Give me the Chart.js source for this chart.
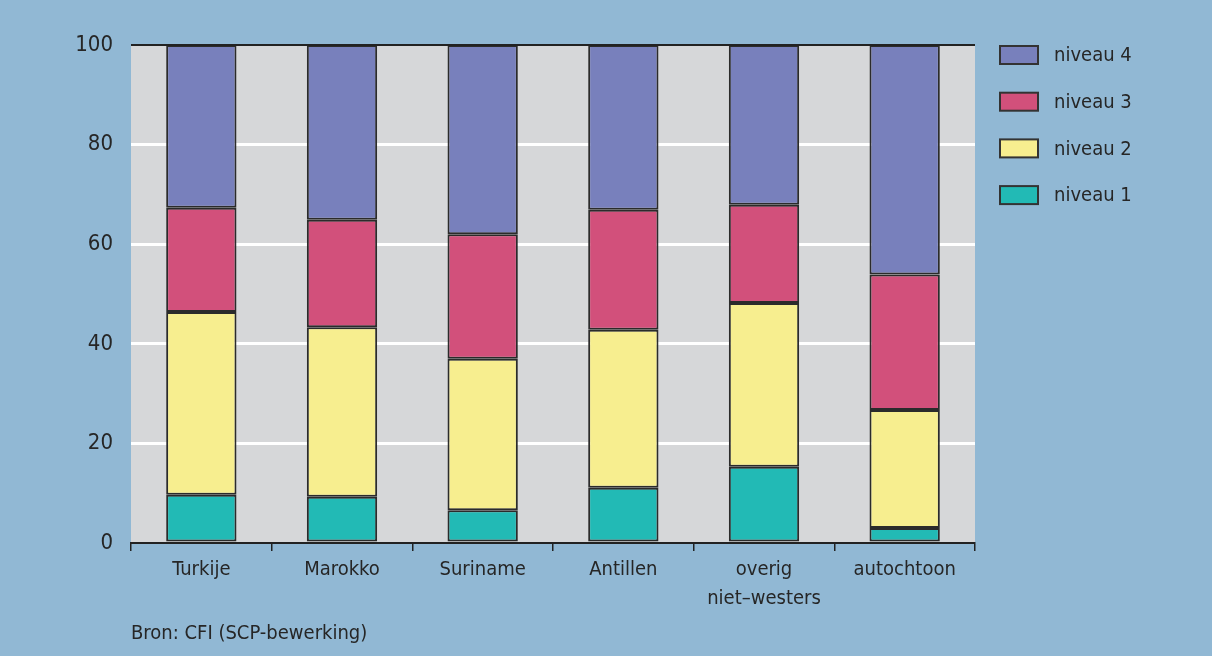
<!DOCTYPE html>
<html>
<head>
<meta charset="utf-8">
<script src="https://cdn.jsdelivr.net/npm/chart.js@4.4.1/dist/chart.umd.min.js"></script>
<style>
  html, body { margin: 0; padding: 0; background: #91b8d4; }
  #wrap { width: 1212px; height: 656px; position: relative; }
</style>
</head>
<body>
<div id="wrap"><canvas id="c"></canvas></div>
<script>
const categories = ["Turkije", "Marokko", "Suriname", "Antillen", ["overig", "niet\u2013westers"], "autochtoon"];
const niveau1 = [9.7, 9.3, 6.6, 11.1, 15.3, 3.0];
const niveau2 = [36.7, 34.0, 30.4, 31.7, 32.9, 23.7];
const niveau3 = [20.9, 21.6, 25.0, 24.1, 19.7, 27.2];
const niveau4 = [32.7, 35.1, 38.0, 33.1, 32.1, 46.1];
const seriesNames = ["niveau 1", "niveau 2", "niveau 3", "niveau 4"];
const yTicks = [0, 20, 40, 60, 80, 100];
const sourceText = "Bron: CFI (SCP-bewerking)";

const FONT = "'Liberation Sans Narrow', 'DejaVu Sans Condensed', 'Liberation Sans', sans-serif";
const colors = ["#22bab5", "#f7ee8f", "#d2507b", "#7880bc"];
const TXT = "#262626";

const bgPlugin = {
  id: 'bg',
  beforeDraw(chart) {
    const { ctx, chartArea: a } = chart;
    ctx.save();
    ctx.fillStyle = "#d6d7d9";
    ctx.fillRect(a.left, a.top, a.right - a.left, a.bottom - a.top);
    ctx.restore();
  },
  afterDraw(chart) {
    const { ctx, chartArea: a } = chart;
    ctx.save();
    const y100 = chart.scales.y.getPixelForValue(100);
    ctx.strokeStyle = "#222";
    ctx.lineWidth = 2;
    ctx.beginPath();
    ctx.moveTo(a.left, y100);
    ctx.lineTo(a.right, y100);
    ctx.stroke();
    const ds = chart.data.datasets;
    ctx.font = "20px " + FONT;
    ctx.textBaseline = "middle";
    ctx.textAlign = "left";
    const order = [3, 2, 1, 0];
    order.forEach((di, i) => {
      const yc = 55 + i * 46.7;
      ctx.fillStyle = ds[di].backgroundColor;
      ctx.fillRect(1000, yc - 9, 38, 18);
      ctx.strokeStyle = "#333";
      ctx.lineWidth = 2;
      ctx.strokeRect(1000, yc - 9, 38, 18);
      ctx.fillStyle = TXT;
      ctx.fillText(ds[di].label, 1054, yc + 1);
    });
    ctx.font = "20px " + FONT;
    ctx.fillText(sourceText, 131, 634);
    ctx.restore();
  }
};

new Chart(document.getElementById('c'), {
  type: 'bar',
  data: {
    labels: categories,
    datasets: [niveau1, niveau2, niveau3, niveau4].map((d, i) => ({
      label: seriesNames[i],
      data: d,
      backgroundColor: colors[i],
      borderColor: "#2b2b2b",
      borderWidth: 2,
      borderSkipped: false,
      categoryPercentage: 1.0,
      barPercentage: 0.5
    }))
  },
  options: {
    responsive: true,
    maintainAspectRatio: false,
    animation: false,
    devicePixelRatio: 1,
    layout: { padding: { left: 0, top: 45, right: 237, bottom: 0 } },
    plugins: { legend: { display: false }, tooltip: { enabled: false } },
    scales: {
      x: {
        stacked: true,
        afterFit(s) { s.height = 113; },
        grid: {
          offset: true,
          drawOnChartArea: false,
          drawTicks: true,
          tickLength: 8,
          color: "#222",
          lineWidth: 1.5
        },
        border: { display: true, color: "#222", width: 2 },
        ticks: {
          color: TXT,
          font: { family: FONT, size: 20, lineHeight: 1.45 },
          padding: 4,
          maxRotation: 0,
          autoSkip: false
        }
      },
      y: {
        stacked: true,
        min: 0,
        max: 100,
        afterFit(s) { s.width = 131; },
        afterBuildTicks(s) { s.ticks = yTicks.map(v => ({ value: v })); },
        grid: {
          drawTicks: false,
          color: (c) => (c.tick && (c.tick.value === 0 || c.tick.value === 100)) ? "rgba(0,0,0,0)" : "#ffffff",
          lineWidth: 3
        },
        border: { display: false },
        ticks: {
          color: TXT,
          font: { family: FONT, size: 22 },
          padding: 18
        }
      }
    }
  },
  plugins: [bgPlugin]
});
</script>
</body>
</html>
